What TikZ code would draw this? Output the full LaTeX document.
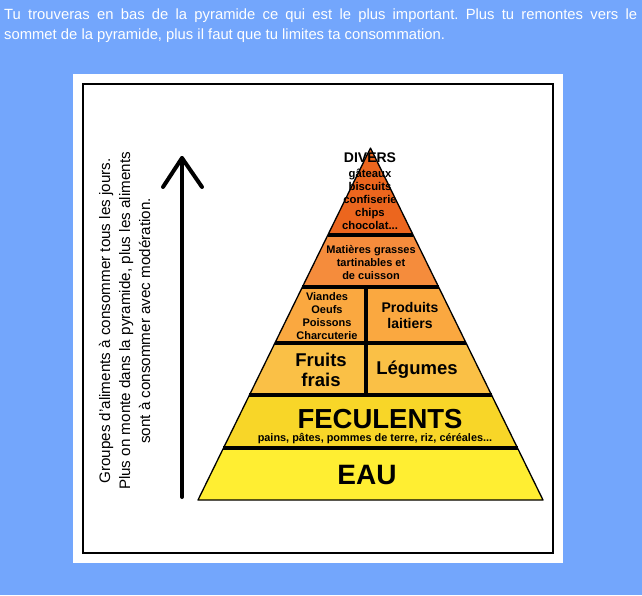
\documentclass[tikz,border=0pt]{standalone}
\usepackage{fontspec}
\setmainfont{Liberation Sans}
\usetikzlibrary{calc}
\frenchspacing
\definecolor{bgblue}{RGB}{115,166,252}
\definecolor{cdivers}{RGB}{236,102,30}
\definecolor{cgras}{RGB}{245,140,60}
\definecolor{cviande}{RGB}{250,168,64}
\definecolor{cfruit}{RGB}{250,192,70}
\definecolor{cfecul}{RGB}{248,214,40}
\definecolor{ceau}{RGB}{255,238,50}
\tikzset{
  lbl/.style={inner sep=0pt, align=center, font=\bfseries},
  divider/.style={line width=4pt},
  outline/.style={line width=1.3pt, line join=round},
  arrowline/.style={line width=4pt, line cap=round, line join=round}
}
\begin{document}
\begin{tikzpicture}[x=1pt,y=-1pt]
\useasboundingbox (0,0) rectangle (642,595);
\fill[bgblue] (0,0) rectangle (642,595);
% intro text
\node[anchor=north west, inner sep=0pt, text width=633pt, align=justify, text=white,
      font=\fontsize{14.8}{20}\selectfont] (intro) at (4,9)
  {Tu trouveras en bas de la pyramide ce qui est le plus important. Plus tu remontes vers le\linebreak sommet de la pyramide, plus il faut que tu limites ta consommation.};
% panel
\fill[white] (73,74) rectangle (563,563);
\draw[line width=1.5pt] (83,84) rectangle (553,553);
% pyramid corners
\coordinate (A) at (370.5,148);
\coordinate (BL) at (198,500);
\coordinate (BR) at (543,500);
\foreach \n/\t in {1/0.2472,2/0.3949,3/0.5540,4/0.7017,5/0.8523}{
  \coordinate (L\n) at ($(A)!\t!(BL)$);
  \coordinate (R\n) at ($(A)!\t!(BR)$);
}
% bands
\fill[cdivers] (A) -- (R1) -- (L1) -- cycle;
\fill[cgras] (L1) -- (R1) -- (R2) -- (L2) -- cycle;
\fill[cviande] (L2) -- (R2) -- (R3) -- (L3) -- cycle;
\fill[cfruit] (L3) -- (R3) -- (R4) -- (L4) -- cycle;
\fill[cfecul] (L4) -- (R4) -- (R5) -- (L5) -- cycle;
\fill[ceau] (L5) -- (R5) -- (BR) -- (BL) -- cycle;
% outline
\draw[outline] (A) -- (BR) -- (BL) -- cycle;
% dividers
\foreach \n in {1,...,5}{ \draw[divider] (L\n) -- (R\n); }
\coordinate (Vtop) at (366,287);
\coordinate (Vbot) at (366,395);
\draw[divider] (Vtop) -- (Vbot);
% labels
\node[lbl, font=\bfseries\fontsize{14}{16}\selectfont] (divers) at (370,158) {DIVERS};
\node[lbl, font=\bfseries\fontsize{11.3}{13}\selectfont] (diverslist) at (370,199) {gâteaux\\biscuits\\confiserie\\chips\\chocolat...};
\node[lbl, font=\bfseries\fontsize{11}{13}\selectfont] (gras) at (371,263) {Matières grasses\\tartinables et\\de cuisson};
\node[lbl, font=\bfseries\fontsize{11}{13}\selectfont] (viandes) at (327,316) {Viandes\\Oeufs\\Poissons\\Charcuterie};
\node[lbl, font=\bfseries\fontsize{14}{16}\selectfont] (laitiers) at (410,315) {Produits\\laitiers};
\node[lbl, font=\bfseries\fontsize{18.5}{20.5}\selectfont] (fruits) at (321,370) {Fruits\\frais};
\node[lbl, font=\bfseries\fontsize{18.5}{20}\selectfont] (legumes) at (417,370) {Légumes};
\node[lbl, font=\bfseries\fontsize{27.5}{30}\selectfont] (fecul) at (380,419) {FECULENTS};
\node[lbl, font=\bfseries\fontsize{10.9}{12}\selectfont] (feculist) at (375,439) {pains, pâtes, pommes de terre, riz, céréales...};
\node[lbl, font=\bfseries\fontsize{28}{30}\selectfont] (eau) at (367,475) {EAU};
% arrow
\coordinate (arrbot) at (182,497);
\coordinate (arrtip) at (182,158);
\coordinate (wingL) at (163,187);
\coordinate (wingR) at (202,187);
\draw[arrowline] (arrbot) -- (arrtip);
\draw[arrowline] (wingL) -- (arrtip) -- (wingR);
% rotated text
\node[inner sep=0pt, align=center, rotate=90, font=\fontsize{15.2}{20}\selectfont] (note) at (124.5,321)
  {Groupes d'aliments à consommer tous les jours.\\Plus on monte dans la pyramide, plus les aliments\\sont à consommer avec modération.};
\end{tikzpicture}
\end{document}
